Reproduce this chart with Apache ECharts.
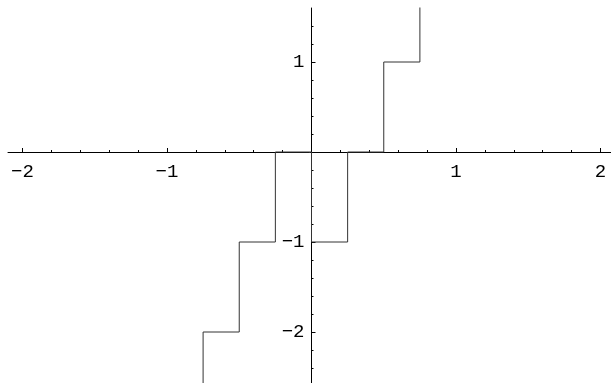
<!DOCTYPE html>
<html><head><meta charset="utf-8">
<script src="https://cdn.jsdelivr.net/npm/echarts@6/dist/echarts.min.js"></script>
<style>html,body{margin:0;padding:0;background:#fff}#c{width:611px;height:383px}</style>
</head><body><div id="c"></div>
<script>
// step function breakpoints and levels
const stepX = [-0.75, -0.75, -0.5, -0.25, 0, 0.25, 0.5, 0.75];
const stepY = [-3, -2, -1, 0, -1, 0, 1, 2];
// tick labels
const xMajor = [-2, -1, 1, 2];
const xMinor = [-2, -1.8, -1.6, -1.4, -1.2, -1, -0.8, -0.6, -0.4, -0.2, 0.2, 0.4, 0.6, 0.8, 1, 1.2, 1.4, 1.6, 1.8, 2];
const yMajor = [-2, -1, 1];
const yMinor = [-2.4, -2.2, -2, -1.8, -1.6, -1.4, -1.2, -1, -0.8, -0.6, -0.4, -0.2, 0.2, 0.4, 0.6, 0.8, 1, 1.2, 1.4];

const X_MIN = -2.1, X_MAX = 2.1, Y_MIN = -2.6, Y_MAX = 1.6;
const fmt = v => String(v).replace('-', '\u2212');
const font = {fontFamily: 'Liberation Mono', fontSize: 19, color: '#000'};
const hidden = {show: false};
const chart = echarts.init(document.getElementById('c'));

// grid 0: plot area; grid 1: its upper half (bottom edge = y zero line) for x labels;
// grid 2: its right half (left edge = x zero line) for y labels
const L = 8, T = 8, W = 607, H = 378;
const x0px = L + W * (0 - X_MIN) / (X_MAX - X_MIN);
const y0px = T + H * (Y_MAX - 0) / (Y_MAX - Y_MIN);

chart.setOption({
  animation: false,
  grid: [
    {left: L, top: T, width: W, height: H, outerBoundsMode: 'none', containLabel: false},
    {left: L, top: T, width: W, height: y0px - T, outerBoundsMode: 'none', containLabel: false},
    {left: x0px, top: T, width: L + W - x0px, height: H, outerBoundsMode: 'none', containLabel: false}
  ],
  xAxis: [
    {type: 'value', gridIndex: 0, position: 'bottom', min: X_MIN, max: X_MAX, splitLine: hidden,
     axisLine: {onZero: true, onZeroAxisIndex: 0, lineStyle: {color: '#000', width: 1}},
     axisTick: {show: true, inside: true, length: 4, customValues: xMajor, lineStyle: {color: '#000'}},
     axisLabel: hidden},
    {type: 'value', gridIndex: 0, position: 'bottom', min: X_MIN, max: X_MAX, splitLine: hidden,
     axisLine: {show: false, onZero: true, onZeroAxisIndex: 0},
     axisTick: {show: true, inside: true, length: 2, customValues: xMinor, lineStyle: {color: '#000'}},
     axisLabel: hidden},
    {type: 'value', gridIndex: 1, position: 'bottom', min: X_MIN, max: X_MAX, splitLine: hidden,
     axisLine: {show: false, onZero: false}, axisTick: hidden,
     axisLabel: Object.assign({show: true, margin: 10, customValues: xMajor, formatter: fmt}, font)},
    {type: 'value', gridIndex: 2, show: false, min: 0, max: 1}
  ],
  yAxis: [
    {type: 'value', gridIndex: 0, position: 'left', min: Y_MIN, max: Y_MAX, splitLine: hidden,
     axisLine: {onZero: true, onZeroAxisIndex: 0, lineStyle: {color: '#000', width: 1}},
     axisTick: {show: true, inside: true, length: 4, customValues: yMajor, lineStyle: {color: '#000'}},
     axisLabel: hidden},
    {type: 'value', gridIndex: 0, position: 'left', min: Y_MIN, max: Y_MAX, splitLine: hidden,
     axisLine: {show: false, onZero: true, onZeroAxisIndex: 0},
     axisTick: {show: true, inside: true, length: 2, customValues: yMinor, lineStyle: {color: '#000'}},
     axisLabel: hidden},
    {type: 'value', gridIndex: 1, show: false, min: 0, max: 1},
    {type: 'value', gridIndex: 2, position: 'left', min: Y_MIN, max: Y_MAX, splitLine: hidden,
     axisLine: {show: false, onZero: false}, axisTick: hidden,
     axisLabel: Object.assign({show: true, margin: 7, customValues: yMajor, formatter: fmt}, font)}
  ],
  series: [{
    type: 'line', xAxisIndex: 0, yAxisIndex: 0, step: 'end', symbol: 'none', clip: true,
    lineStyle: {color: '#333', width: 1},
    data: stepX.map((x, i) => [x, stepY[i]])
  }]
});
</script></body></html>
